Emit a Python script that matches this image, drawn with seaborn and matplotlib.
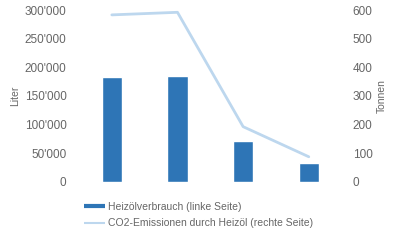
import matplotlib
matplotlib.use("Agg")
import matplotlib.pyplot as plt
from matplotlib.ticker import FuncFormatter
from matplotlib.lines import Line2D
import seaborn as sns
import numpy as np

categories = ["A", "B", "C", "D"]
heizoel_liter = [183000, 185500, 72000, 32500]
co2_tonnen = [583, 592, 193, 88]
bar_label = "Heizölverbrauch (linke Seite)"
line_label = "CO2-Emissionen durch Heizöl (rechte Seite)"

sns.set_theme(style="white")
plt.rcParams["font.family"] = ["Liberation Sans", "DejaVu Sans"]

bar_color = "#2E75B6"
line_color = "#BDD7EE"
text_color = "#666666"

fig = plt.figure(figsize=(4, 2.4), dpi=100)
ax = fig.add_axes([0.1975, 0.2417, 0.6565, 0.7166])

sns.barplot(x=categories, y=heizoel_liter, ax=ax, color=bar_color,
            saturation=1, width=0.31)
ax.set_xlim(-0.5, 3.5)
ax.set_ylim(0, 300000)
ax.set_yticks(np.arange(0, 300001, 50000))
ax.yaxis.set_major_formatter(FuncFormatter(lambda v, p: f"{int(v):,}".replace(",", "'")))
ax.set_xticks([])
ax.set_xlabel("")
ax.set_ylabel("Liter", fontsize=7.5, color=text_color, labelpad=3)
ax.tick_params(axis="y", labelsize=8.5, colors=text_color, length=0, pad=9)

ax2 = ax.twinx()
sns.lineplot(x=np.arange(len(categories)), y=co2_tonnen, ax=ax2,
             color=line_color, linewidth=2)
ax2.set_ylim(0, 600)
ax2.set_yticks(np.arange(0, 601, 100))
ax2.set_ylabel("Tonnen", fontsize=7.5, color=text_color, labelpad=3)
ax2.tick_params(axis="y", labelsize=8.5, colors=text_color, length=0, pad=8)
ax2.set_xlim(-0.5, 3.5)

for a in (ax, ax2):
    for s in a.spines.values():
        s.set_visible(False)
    a.grid(False)

handles = [Line2D([0], [0], color=bar_color, linewidth=3, solid_capstyle="butt"),
           Line2D([0], [0], color=line_color, linewidth=1.5, solid_capstyle="butt")]
fig.legend(handles, [bar_label, line_label], loc="upper left",
           bbox_to_anchor=(0.21, 0.158), frameon=False, fontsize=7.5,
           labelcolor=text_color, handlelength=2.0, handletextpad=0.3,
           labelspacing=0.6, borderaxespad=0, borderpad=0)

fig.savefig("out.png", dpi=100)
